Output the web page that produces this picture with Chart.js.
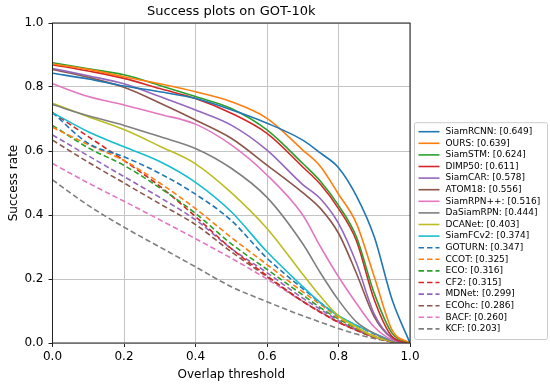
<!DOCTYPE html>
<html>
<head>
<meta charset="utf-8">
<script src="https://cdn.jsdelivr.net/npm/chart.js@4.4.1/dist/chart.umd.min.js"></script>
<style>
  html, body { margin: 0; padding: 0; background: #fff; }
</style>
</head>
<body>
<canvas id="successChart" width="550" height="386"></canvas>
<script>
// overlap thresholds (x) and success rate per tracker (y)
const thresholds = [0, 0.1, 0.2, 0.3, 0.4, 0.5, 0.6, 0.7, 0.75, 0.8, 0.85, 0.9, 0.95, 1.0];

const siamRCNN  = [0.843, 0.825, 0.803, 0.785, 0.764, 0.729, 0.687, 0.634, 0.593, 0.548, 0.460, 0.332, 0.135, 0];
const ours      = [0.872, 0.855, 0.832, 0.810, 0.785, 0.754, 0.702, 0.603, 0.551, 0.465, 0.374, 0.207, 0.040, 0];
const siamSTM   = [0.876, 0.857, 0.838, 0.805, 0.770, 0.733, 0.666, 0.561, 0.505, 0.430, 0.332, 0.155, 0.030, 0];
const dimp50    = [0.870, 0.850, 0.827, 0.795, 0.764, 0.718, 0.655, 0.550, 0.495, 0.420, 0.320, 0.135, 0.020, 0];
const siamCAR   = [0.858, 0.835, 0.810, 0.770, 0.728, 0.681, 0.603, 0.495, 0.450, 0.374, 0.250, 0.090, 0.015, 0];
const atom18    = [0.855, 0.830, 0.799, 0.750, 0.697, 0.640, 0.556, 0.470, 0.420, 0.343, 0.218, 0.082, 0.015, 0];
const siamRPNpp = [0.810, 0.770, 0.744, 0.715, 0.684, 0.619, 0.525, 0.400, 0.300, 0.207, 0.124, 0.050, 0.010, 0];
const daSiamRPN = [0.745, 0.710, 0.680, 0.645, 0.608, 0.546, 0.455, 0.310, 0.218, 0.134, 0.066, 0.030, 0.006, 0];
const dcaNet    = [0.749, 0.707, 0.667, 0.615, 0.560, 0.470, 0.358, 0.215, 0.145, 0.085, 0.050, 0.020, 0.005, 0];
const siamFCv2  = [0.720, 0.660, 0.613, 0.567, 0.502, 0.410, 0.285, 0.176, 0.125, 0.085, 0.055, 0.030, 0.008, 0];
const goturn    = [0.720, 0.624, 0.582, 0.530, 0.465, 0.383, 0.265, 0.170, 0.125, 0.085, 0.055, 0.028, 0.006, 0];
const ccot      = [0.674, 0.620, 0.570, 0.500, 0.420, 0.330, 0.245, 0.160, 0.120, 0.080, 0.048, 0.022, 0.005, 0];
const eco       = [0.680, 0.610, 0.555, 0.485, 0.405, 0.310, 0.230, 0.150, 0.110, 0.075, 0.045, 0.020, 0.004, 0];
const cf2       = [0.720, 0.645, 0.570, 0.490, 0.395, 0.295, 0.210, 0.130, 0.095, 0.065, 0.040, 0.018, 0.004, 0];
const mdNet     = [0.650, 0.585, 0.520, 0.455, 0.385, 0.295, 0.220, 0.140, 0.105, 0.070, 0.043, 0.020, 0.004, 0];
const ecoHC     = [0.634, 0.565, 0.500, 0.435, 0.370, 0.285, 0.207, 0.130, 0.097, 0.065, 0.040, 0.018, 0.004, 0];
const bacf      = [0.561, 0.500, 0.443, 0.385, 0.326, 0.265, 0.200, 0.130, 0.097, 0.065, 0.040, 0.018, 0.004, 0];
const kcf       = [0.510, 0.430, 0.362, 0.300, 0.238, 0.176, 0.129, 0.085, 0.065, 0.045, 0.028, 0.014, 0.004, 0];

const trackerNames = ['SiamRCNN', 'OURS', 'SiamSTM', 'DIMP50', 'SiamCAR', 'ATOM18', 'SiamRPN++', 'DaSiamRPN',
    'DCANet', 'SiamFCv2', 'GOTURN', 'CCOT', 'ECO', 'CF2', 'MDNet', 'ECOhc', 'BACF', 'KCF'];
const trackerScores = [0.649, 0.639, 0.624, 0.611, 0.578, 0.556, 0.516, 0.444,
    0.403, 0.374, 0.347, 0.325, 0.316, 0.315, 0.299, 0.286, 0.260, 0.203];
const trackerCurves = [siamRCNN, ours, siamSTM, dimp50, siamCAR, atom18, siamRPNpp, daSiamRPN,
    dcaNet, siamFCv2, goturn, ccot, eco, cf2, mdNet, ecoHC, bacf, kcf];

const tab10 = ['#1f77b4', '#ff7f0e', '#2ca02c', '#d62728', '#9467bd', '#8c564b', '#e377c2', '#7f7f7f', '#bcbd22', '#17becf'];
const DASH = [5.5, 3];

const datasets = trackerNames.map(function(name, i) {
    const dashed = i >= 10;
    return {
        label: name + ': [' + trackerScores[i].toFixed(3) + ']',
        data: thresholds.map((t, k) => ({ x: t, y: trackerCurves[i][k] })),
        borderColor: dashed ? tab10[i - 10] : tab10[i],
        borderWidth: 1.6,
        borderDash: dashed ? DASH : [],
        pointRadius: 0,
        fill: false,
        cubicInterpolationMode: 'monotone'
    };
});

// frame around the axes, like matplotlib spines
const frame = {
    id: 'frame',
    afterDatasetsDraw(chart) {
        const a = chart.chartArea, ctx = chart.ctx;
        ctx.save();
        ctx.strokeStyle = '#222';
        ctx.lineWidth = 1;
        ctx.strokeRect(a.left, a.top, a.right - a.left, a.bottom - a.top);
        ctx.restore();
    }
};

// legend box to the right of the axes, bottom-aligned
const legendBox = {
    id: 'legendBox',
    afterDraw(chart) {
        const a = chart.chartArea, ctx = chart.ctx;
        const n = chart.data.datasets.length;
        const rowH = 11.6;
        const x0 = a.right + 4.5, w = 133;
        const h = n * rowH + 8;
        const y0 = a.bottom - 3.5 - h;
        ctx.save();
        ctx.fillStyle = 'rgba(255,255,255,0.9)';
        ctx.strokeStyle = '#cccccc';
        ctx.lineWidth = 1;
        ctx.beginPath();
        ctx.roundRect(x0, y0, w, h, 2);
        ctx.fill();
        ctx.stroke();
        ctx.font = '9px "DejaVu Sans"';
        ctx.textBaseline = 'middle';
        ctx.textAlign = 'left';
        chart.data.datasets.forEach(function(ds, i) {
            const y = y0 + 9 + i * rowH;
            ctx.strokeStyle = ds.borderColor;
            ctx.lineWidth = 1.6;
            ctx.setLineDash(ds.borderDash);
            ctx.beginPath();
            ctx.moveTo(x0 + 4, y);
            ctx.lineTo(x0 + 25, y);
            ctx.stroke();
            ctx.setLineDash([]);
            ctx.fillStyle = '#000';
            ctx.fillText(ds.label, x0 + 31, y);
        });
        ctx.restore();
    }
};

Chart.defaults.font.family = '"DejaVu Sans", sans-serif';
Chart.defaults.color = '#000';

const ctx = document.getElementById('successChart').getContext('2d');
const successChart = new Chart(ctx, {
    type: 'line',
    data: { datasets: datasets },
    options: {
        responsive: false,
        animation: false,
        devicePixelRatio: 1,
        layout: { padding: { right: 140 } },
        plugins: {
            legend: { display: false },
            tooltip: { enabled: false },
            title: {
                display: true,
                text: 'Success plots on GOT-10k',
                fullSize: false,
                font: { size: 13, weight: 'normal' },
                color: '#000',
                padding: { top: 4, bottom: 3.4 }
            }
        },
        scales: {
            x: {
                type: 'linear',
                min: 0,
                max: 1,
                ticks: {
                    stepSize: 0.2,
                    font: { size: 12 },
                    padding: 3,
                    callback: v => v.toFixed(1)
                },
                grid: { color: '#c4c4c4', lineWidth: 1, tickLength: 4, tickColor: '#222' },
                border: { display: false },
                title: {
                    display: true,
                    text: 'Overlap threshold',
                    font: { size: 12 },
                    padding: { top: 0, bottom: 3.5 }
                },
                afterFit: s => { s.height = 43; }
            },
            y: {
                min: 0,
                max: 1,
                ticks: {
                    stepSize: 0.2,
                    font: { size: 12 },
                    padding: 5,
                    callback: v => v.toFixed(1)
                },
                grid: { color: '#c4c4c4', lineWidth: 1, tickLength: 4, tickColor: '#222' },
                border: { display: false },
                title: {
                    display: true,
                    text: 'Success rate',
                    font: { size: 12 },
                    padding: { top: 6.5, bottom: 0 }
                },
                afterFit: s => { s.width = 52.5; }
            }
        }
    },
    plugins: [frame, legendBox]
});
</script>
</body>
</html>
